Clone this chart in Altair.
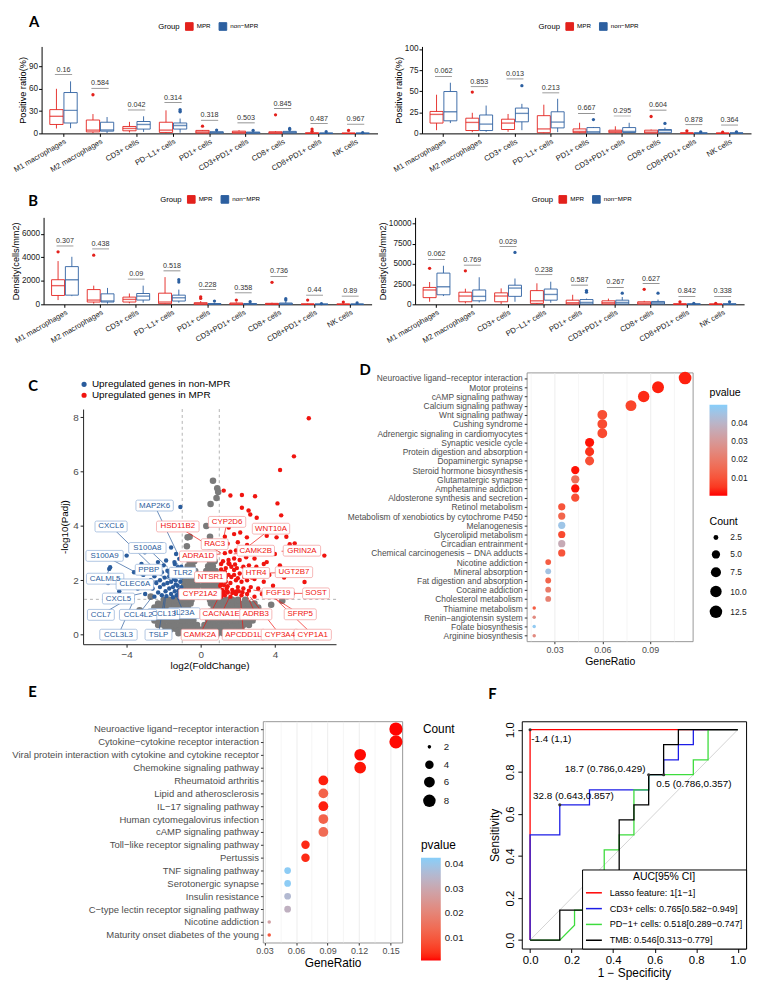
import altair as alt
import pandas as pd

FONT = "Liberation Sans"
LFONT = "Lato"
RED = "#E3211C"
BLUE = "#2C5FA0"

# ---------------- A / B : box plots ----------------
cats = ["M1 macrophages", "M2 macrophages", "CD3+ cells", "PD−L1+ cells", "PD1+ cells",
        "CD3+PD1+ cells", "CD8+ cells", "CD8+PD1+ cells", "NK cells"]
groups = ["MPR", "non−MPR"]

a1_mpr_lo = [6.6, 0.5, 1.3, 0.4, 0.3, 0.2, 0.2, 0.0, 0.0]
a1_mpr_q1 = [12, 2, 3.5, 1.3, 0.4, 0.3, 0.2, 0.0, 0.0]
a1_mpr_med = [23, 4.4, 6.6, 4.4, 1.8, 1.3, 0.9, 0.2, 0.1]
a1_mpr_q3 = [32, 18, 9.3, 15, 4, 3, 2.2, 0.7, 0.3]
a1_mpr_hi = [60, 26, 15.5, 31, 4.5, 4.4, 3, 1.5, 0.6]
a1_non_lo = [7, 0.5, 2, 1, 0.2, 0.1, 0.2, 0, 0]
a1_non_q1 = [14, 3, 5.8, 5.8, 0.4, 0.2, 0.4, 0, 0]
a1_non_med = [31, 4.5, 12, 10.6, 1.3, 0.9, 1.3, 0.2, 0.2]
a1_non_q3 = [55, 15, 16, 14, 2.2, 1.8, 2.7, 0.4, 0.4]
a1_non_hi = [70, 22, 23, 20, 3, 2.5, 4.4, 0.8, 0.6]
a1_out_cat = [1, 4, 6, 7, 7, 8, 3, 3, 3, 4, 5, 6, 6, 7, 8]
a1_out_grp = [0, 0, 0, 0, 0, 0, 1, 1, 1, 1, 1, 1, 1, 1, 1]
a1_out_val = [52, 9.7, 25, 5.8, 3, 4, 32, 30, 29, 4.4, 4, 6.6, 5.3, 2.2, 0.9]
a1_p = ["0.16", "0.584", "0.042", "0.314", "0.318", "0.503", "0.845", "0.487", "0.967"]
a1_p_y = [79, 60.7, 31.5, 41.6, 17.7, 14.2, 33.2, 13.3, 12.4]

a2_mpr_lo = [3.8, 1.5, 1.9, 0, 0, 0.4, 0.2, 0, 0]
a2_mpr_q1 = [12.2, 3.4, 4.6, 0.8, 0.8, 0.8, 0.4, 0.1, 0]
a2_mpr_med = [22.5, 13, 12.2, 5.3, 2.3, 2.3, 1.5, 0.3, 0.2]
a2_mpr_q3 = [26, 18, 16.8, 21, 5.3, 3.8, 3.8, 0.6, 0.4]
a2_mpr_hi = [45.8, 24.4, 23, 34, 12.6, 8.4, 4.6, 1.2, 0.8]
a2_non_lo = [12.2, 1.9, 3.8, 1.5, 0.4, 1.1, 0.8, 0, 0]
a2_non_q1 = [14.9, 3.4, 13.7, 6.5, 0.4, 1.1, 0.8, 0.1, 0.1]
a2_non_med = [25.6, 11, 23.7, 13.4, 1.9, 2.3, 3.4, 0.3, 0.3]
a2_non_q3 = [49.6, 21.8, 30, 25.6, 6.9, 6.9, 4.6, 0.6, 0.6]
a2_non_hi = [60, 33, 35, 41, 7.6, 12.6, 6.9, 1.0, 1.0]
a2_out_cat = [1, 6, 7, 8, 2, 4, 6, 7, 8]
a2_out_grp = [0, 0, 0, 0, 1, 1, 1, 1, 1]
a2_out_val = [49, 20, 3, 1.5, 56.5, 16.4, 11.8, 1.9, 1.9]
a2_p = ["0.062", "0.853", "0.013", "0.213", "0.667", "0.295", "0.604", "0.878", "0.364"]
a2_p_y = [67.6, 55.3, 64.5, 48, 23.7, 20.6, 27.5, 10.3, 9.9]

b1_mpr_lo = [363, 56, 84, 0, 0, 0, 0, 0, 0]
b1_mpr_q1 = [753, 195, 195, 56, 0, 0, 0, 0, 0]
b1_mpr_med = [1590, 363, 419, 195, 56, 30, 20, 5, 5]
b1_mpr_q3 = [2093, 1256, 614, 949, 140, 112, 84, 30, 20]
b1_mpr_hi = [3683, 1590, 921, 2316, 279, 170, 140, 60, 40]
b1_non_lo = [698, 56, 140, 140, 0, 0, 0, 0, 0]
b1_non_q1 = [781, 195, 363, 279, 10, 10, 10, 0, 0]
b1_non_med = [2093, 279, 698, 558, 30, 30, 30, 5, 5]
b1_non_q3 = [3209, 893, 921, 781, 56, 56, 112, 20, 20]
b1_non_hi = [4046, 1395, 1590, 1256, 112, 112, 251, 40, 40]
b1_out_cat = [0, 1, 4, 4, 5, 6, 7, 8, 3, 3, 4, 5, 6, 6, 7, 8]
b1_out_grp = [0, 0, 0, 0, 0, 0, 0, 0, 1, 1, 1, 1, 1, 1, 1, 1]
b1_out_val = [4464, 4185, 642, 502, 363, 1869, 363, 195, 2093, 1897, 279, 223, 474, 363, 56, 112]
b1_p = ["0.307", "0.438", "0.09", "0.518", "0.228", "0.358", "0.736", "0.44", "0.89"]
b1_p_y = [4966, 4715, 2148, 2846, 1256, 977, 2372, 781, 698]

b2_mpr_lo = [316, 119, 40, 0, 0, 0, 0, 0, 0]
b2_mpr_q1 = [830, 316, 316, 119, 40, 40, 20, 0, 0]
b2_mpr_med = [1778, 1027, 1027, 435, 198, 198, 158, 20, 10]
b2_mpr_q3 = [2094, 1501, 1422, 1699, 514, 435, 316, 60, 40]
b2_mpr_hi = [2765, 1936, 1975, 2607, 1185, 711, 435, 120, 80]
b2_non_lo = [1027, 237, 316, 198, 0, 0, 0, 0, 0]
b2_non_q1 = [1185, 435, 988, 514, 40, 40, 40, 0, 0]
b2_non_med = [2173, 988, 2015, 1225, 237, 237, 198, 20, 20]
b2_non_q3 = [3871, 1778, 2370, 1896, 593, 514, 356, 60, 60]
b2_non_hi = [4780, 3358, 3200, 2805, 711, 909, 593, 120, 120]
b2_out_cat = [0, 1, 6, 7, 8, 2, 4, 4, 5, 6, 7, 8]
b2_out_grp = [0, 0, 0, 0, 0, 1, 1, 1, 1, 1, 1, 1]
b2_out_val = [4464, 4148, 1857, 316, 119, 6440, 1699, 1501, 1383, 1383, 119, 316]
b2_p = ["0.062", "0.769", "0.029", "0.238", "0.587", "0.267", "0.627", "0.842", "0.338"]
b2_p_y = [5570, 4859, 7150, 3674, 2370, 2094, 2568, 988, 988]

# ---------------- C : volcano ----------------
vol_groups = ["Upregulated genes in non-MPR", "Upregulated genes in MPR"]
vol_gray_rows = [
    (0.05, [-1.2, -0.9, -0.6, -0.3, 0.0, 0.3, 0.6, 0.9, 1.2, 1.5]),
    (0.2, [-1.9, -1.6, -1.3, -1.0, -0.7, -0.4, -0.12, 0.12, 0.4, 0.7, 1.0, 1.3, 1.6, 1.9, 2.2]),
    (0.36, [-2.3, -2.0, -1.7, -1.4, -1.1, -0.8, -0.5, -0.2, 0.2, 0.5, 0.8, 1.1, 1.4, 1.7, 2.0, 2.3, 2.6]),
    (0.52, [-2.5, -2.2, -1.9, -1.6, -1.3, -1.0, -0.7, -0.4, 0.4, 0.7, 1.0, 1.3, 1.6, 1.9, 2.2, 2.5, 2.8]),
    (0.68, [-2.7, -2.4, -2.1, -1.8, -1.5, -1.2, -0.9, -0.6, -0.35, 0.35, 0.6, 0.9, 1.2, 1.5, 1.8, 2.1, 2.4, 2.7, 3.0]),
    (0.84, [-2.6, -2.3, -2.0, -1.7, -1.4, -1.1, -0.8, -0.5, 0.5, 0.8, 1.1, 1.4, 1.7, 2.0, 2.3, 2.6, 2.9, 3.2]),
    (1.0, [-2.5, -2.2, -1.9, -1.6, -1.3, -1.0, -0.7, 0.7, 1.0, 1.3, 1.6, 1.9, 2.2, 2.5, 2.8, 3.1]),
    (1.15, [-2.3, -2.0, -1.7, -1.4, -1.1, -0.8, -0.55, 0.55, 0.8, 1.1, 1.4, 1.7, 2.0, 2.3, 2.6, 2.9]),
    (1.28, [-2.0, -1.7, -1.4, -1.1, -0.8, -0.5, 0.5, 0.8, 1.1, 1.4, 1.7, 2.0, 2.4]),
    (1.45, [-0.9, -0.65, -0.4, 0.4, 0.65, 0.9]),
    (1.62, [-0.9, -0.65, -0.4, -0.15, 0.15, 0.4, 0.65, 0.9]),
    (1.8, [-0.9, -0.65, -0.4, -0.15, 0.15, 0.4, 0.65, 0.9]),
    (1.98, [-0.85, -0.6, -0.35, -0.1, 0.15, 0.4, 0.65, 0.9]),
    (2.16, [-0.85, -0.6, -0.35, 0.2, 0.45, 0.7]),
    (2.34, [-0.8, -0.55, -0.3, 0.3, 0.55, 0.8]),
    (2.52, [-0.7, -0.45, 0.4, 0.65]),
    (2.7, [-0.6, -0.35, 0.5, 0.75]),
    (2.95, [-0.5, 0.35, 0.65]),
    (3.25, [-0.75, 0.45]),
    (3.6, [-0.6, 0.5]),
]
vol_gray_extra_x = [0.66, 0.89, 0.94, 0.53, 0.85, -0.71, -2.7, 4.4, 3.8, -3.3, 0.75, 0.3]
vol_gray_extra_y = [5.66, 5.39, 5.25, 4.81, 5.03, 3.58, 1.4, 1.25, 1.1, 0.9, 4.2, 4.0]
vol_blue_x = [-1.1, -1.2, -1.3, -1.15, -1.4, -1.6, -1.25, -1.5, -1.7, -1.9, -1.1, -1.35, -1.6, -1.8, -2.0,
              -2.2, -1.2, -1.45, -1.7, -1.95, -2.2, -2.4, -1.3, -1.55, -1.8, -2.1, -2.5, -2.7, -2.3, -2.6,
              -2.9, -3.1, -1.05, -1.4, -2.0, -2.6, -1.15, -1.5, -1.85, -2.1, -2.5, -3.0, -3.4, -3.6, -3.2,
              -2.13, -1.6, -1.33, -3.02, -3.73, -4.0, -2.31, -1.87, -1.42, -1.16, -3.38, -2.67, -4.94,
              -1.24, -1.1, -2.58, -4.89, -4.4, -5.0, -1.05, -1.2, -1.35, -1.05, -1.25, -1.45, -1.7]
vol_blue_y = [1.4, 1.5, 1.45, 1.65, 1.6, 1.5, 1.8, 1.75, 1.7, 1.6, 1.95, 2.0, 1.95, 1.9, 1.85,
              1.75, 2.15, 2.2, 2.15, 2.1, 2.0, 1.9, 2.35, 2.4, 2.35, 2.3, 2.15, 2.0, 1.55, 1.7,
              1.85, 2.2, 2.5, 2.6, 2.55, 2.45, 1.35, 1.38, 1.42, 1.45, 1.4, 1.5, 1.7, 2.3, 2.6,
              3.33, 3.21, 2.97, 3.03, 3.09, 2.91, 2.67, 2.73, 2.67, 2.79, 2.48, 2.48, 2.42,
              2.48, 4.7, 2.48, 2.48, 1.6, 1.9, 1.75, 1.62, 1.85, 2.1, 2.28, 2.05, 2.3]
vol_red_x = [1.1, 1.3, 1.6, 1.9, 2.2, 2.5, 2.9, 3.3, 1.15, 1.4, 1.7, 2.0, 2.3, 2.7, 3.1,
             1.1, 1.35, 1.6, 1.9, 2.2, 2.5, 2.9, 3.4, 1.2, 1.5, 1.8, 2.1, 2.4, 2.8, 3.2,
             1.1, 1.35, 1.65, 1.95, 2.3, 2.6, 3.0, 1.2, 1.5, 1.8, 2.1, 2.45, 2.9,
             1.3, 1.6, 1.9, 2.3, 2.7, 1.15, 1.45, 2.0, 2.5, 3.2, 1.3, 1.8, 3.4, 3.7, 3.9, 4.2,
             5.83, 5.03, 4.28, 4.14, 4.34, 1.24, 1.6, 2.22, 2.93, 2.22, 2.58, 2.67, 3.02, 4.62,
             4.8, 5.07, 6.67, 4.09, 3.2, 3.56, 1.87, 1.51, 2.49, 2.13, 4.0, 3.56, 4.27, 5.6,
             4.98, 4.5, 5.3, 1.05, 1.25, 1.45, 1.05, 1.25, 1.45, 1.75, 2.05, 1.05, 1.3, 1.55, 1.8,
             1.2, 1.45, 1.7, 1.95, 2.25, 2.6, 1.35, 1.65, 2.0, 2.35, 2.75, 1.1, 1.5, 1.85]
vol_red_y = [1.4, 1.45, 1.4, 1.5, 1.45, 1.5, 1.4, 1.5, 1.65, 1.7, 1.65, 1.75, 1.7, 1.75, 1.7,
             1.9, 1.95, 1.9, 2.0, 1.95, 2.0, 2.05, 1.95, 2.15, 2.2, 2.2, 2.25, 2.2, 2.3, 2.25,
             2.4, 2.45, 2.5, 2.45, 2.5, 2.55, 2.5, 2.7, 2.75, 2.8, 2.75, 2.85, 2.8,
             3.0, 3.05, 3.1, 3.05, 3.15, 3.3, 3.35, 3.4, 3.3, 3.1, 3.6, 3.7, 2.6, 2.2, 1.8, 1.6,
             7.96, 6.56, 6.06, 4.83, 4.39, 5.3, 5.12, 5.14, 5.09, 4.67, 4.57, 4.42, 4.3, 3.6,
             3.33, 3.36, 2.91, 3.58, 3.94, 3.64, 4.18, 3.94, 3.58, 3.76, 2.97, 2.67, 2.55, 1.94,
             1.52, 2.1, 2.3, 1.55, 1.58, 1.55, 1.8, 1.82, 1.78, 1.58, 1.6, 2.05, 2.32, 2.6, 2.38,
             1.52, 1.57, 1.53, 1.6, 1.56, 1.62, 2.1, 2.12, 2.08, 2.12, 2.1, 2.6, 2.62, 2.58]
lab_blue = ["MAP2K6", "CXCL6", "S100A8", "S100A9", "PPBP", "TLR2", "CALML5", "CLEC6A", "CXCL5",
            "CCL7", "IL23A", "CCL13", "CCL4L2", "CCL3L3", "TSLP"]
lab_blue_x = [-2.49, -4.84, -2.88, -5.19, -2.81, -0.98, -5.16, -3.56, -4.44, -5.39, -0.9, -2.0, -3.38, -4.44, -2.28]
lab_blue_y = [4.75, 3.98, 3.19, 2.9, 2.39, 2.28, 2.06, 1.85, 1.33, 0.73, 0.79, 0.76, 0.73, 0.0, 0.0]
lab_blue_px = [-1.24, -2.58, -1.78, -3.2, -1.6, -1.28, -4.89, -2.31, -3.2, -3.73, -1.3, -1.9, -2.67, -3.57, -1.96]
lab_blue_py = [2.97, 2.48, 2.48, 2.18, 2.0, 2.63, 2.48, 2.0, 1.52, 1.4, 1.4, 1.4, 1.35, 1.35, 1.38]
lab_red = ["HSD11B2", "CYP2D6", "WNT10A", "RAC3", "CAMK2B", "GRIN2A", "ADRA1D", "HTR4", "UGT2B7", "NTSR1",
           "CYP21A2", "FGF19", "SOST", "CACNA1E", "ADRB3", "SFRP5", "CAMK2A", "APCDD1L", "CYP3A4", "CYP1A1"]
lab_red_x = [-1.24, 1.42, 3.79, 0.75, 2.97, 5.46, -0.14, 2.99, 5.03, 0.53,
             -0.04, 4.18, 6.22, 1.1, 2.97, 5.37, -0.05, 2.31, 4.27, 6.04]
lab_red_y = [3.98, 4.15, 3.9, 3.33, 3.09, 3.09, 2.88, 2.27, 2.3, 2.12,
             1.49, 1.52, 1.52, 0.75, 0.75, 0.75, 0.0, 0.0, 0.0, 0.0]
lab_red_px = [1.1, 1.24, 2.49, 1.42, 1.78, 4.36, 1.07, 2.13, 3.73, 1.42,
              1.42, 2.84, 4.98, 1.6, 2.49, 3.56, 1.07, 2.13, 2.67, 3.91]
lab_red_py = [3.0, 3.58, 3.21, 3.15, 2.97, 3.07, 2.97, 2.48, 2.27, 2.24,
              1.64, 1.64, 1.52, 1.45, 1.45, 1.52, 1.52, 1.45, 1.39, 1.4]

# ---------------- D : KEGG dot plot ----------------
d_terms = ["Neuroactive ligand−receptor interaction", "Motor proteins", "cAMP signaling pathway",
           "Calcium signaling pathway", "Wnt signaling pathway", "Cushing syndrome",
           "Adrenergic signaling in cardiomyocytes", "Synaptic vesicle cycle",
           "Protein digestion and absorption", "Dopaminergic synapse", "Steroid hormone biosynthesis",
           "Glutamatergic synapse", "Amphetamine addiction", "Aldosterone synthesis and secretion",
           "Retinol metabolism", "Metabolism of xenobiotics by cytochrome P450", "Melanogenesis",
           "Glycerolipid metabolism", "Circadian entrainment", "Chemical carcinogenesis − DNA adducts",
           "Nicotine addiction", "Mineral absorption", "Fat digestion and absorption", "Cocaine addiction",
           "Cholesterol metabolism", "Thiamine metabolism", "Renin−angiotensin system",
           "Folate biosynthesis", "Arginine biosynthesis"]
d_ratio = [0.112, 0.095, 0.086, 0.078, 0.060, 0.060, 0.060, 0.052, 0.052, 0.052, 0.043, 0.043, 0.043,
           0.043, 0.0345, 0.0345, 0.0345, 0.0345, 0.0345, 0.0345, 0.026, 0.026, 0.026, 0.026, 0.026,
           0.0172, 0.0172, 0.0172, 0.0172]
d_count = [13, 11, 10, 9, 7, 7, 7, 6, 6, 6, 5, 5, 5, 5, 4, 4, 4, 4, 4, 4, 3, 3, 3, 3, 3, 2, 2, 2, 2]
d_p = [0.002, 0.002, 0.003, 0.007, 0.009, 0.008, 0.008, 0.001, 0.004, 0.009, 0.001, 0.017, 0.001,
       0.009, 0.010, 0.014, 0.046, 0.008, 0.036, 0.010, 0.012, 0.045, 0.014, 0.020, 0.022, 0.012,
       0.025, 0.048, 0.025]

# ---------------- E : KEGG dot plot ----------------
e_terms = ["Neuroactive ligand−receptor interaction", "Cytokine−cytokine receptor interaction",
           "Viral protein interaction with cytokine and cytokine receptor", "Chemokine signaling pathway",
           "Rheumatoid arthritis", "Lipid and atherosclerosis", "IL−17 signaling pathway",
           "Human cytomegalovirus infection", "cAMP signaling pathway", "Toll−like receptor signaling pathway",
           "Pertussis", "TNF signaling pathway", "Serotonergic synapse", "Insulin resistance",
           "C−type lectin receptor signaling pathway", "Nicotine addiction",
           "Maturity onset diabetes of the young"]
e_ratio = [0.155, 0.155, 0.121, 0.121, 0.086, 0.086, 0.086, 0.086, 0.086, 0.069, 0.069, 0.052,
           0.052, 0.052, 0.052, 0.0345, 0.0345]
e_count = [9, 9, 7, 7, 5, 5, 5, 5, 5, 4, 4, 3, 3, 3, 3, 2, 2]
e_p = [0.0008, 0.001, 0.001, 0.0015, 0.002, 0.012, 0.002, 0.012, 0.014, 0.003, 0.003, 0.042,
       0.042, 0.036, 0.033, 0.028, 0.01]

# ---------------- F : ROC ----------------
roc_names = ["Lasso feature: 1[1−1]", "CD3+ cells: 0.765[0.582−0.949]",
             "PD−1+ cells: 0.518[0.289−0.747]", "TMB: 0.546[0.313−0.779]"]
roc_colors = ["#FF0000", "#1C1CE6", "#3DDC3D", "#000000"]
roc_lasso_x = [0, 0, 1]
roc_lasso_y = [0, 1, 1]
roc_cd3_x = [0, 0, 0.143, 0.143, 0.286, 0.286, 0.571, 0.571, 0.643, 0.643, 0.714, 0.714, 0.786, 0.786, 1]
roc_cd3_y = [0, 0.5, 0.5, 0.643, 0.643, 0.714, 0.714, 0.786, 0.786, 0.857, 0.857, 0.929, 0.929, 1, 1]
roc_pd1_x = [0, 0.143, 0.214, 0.214, 0.286, 0.286, 0.357, 0.357, 0.429, 0.429, 0.5, 0.5, 0.571, 0.571,
             0.786, 0.786, 0.857, 0.857, 1]
roc_pd1_y = [0, 0, 0.071, 0.143, 0.143, 0.214, 0.214, 0.429, 0.429, 0.5, 0.5, 0.714, 0.714, 0.786,
             0.786, 0.857, 0.857, 1, 1]
roc_tmb_x = [0, 0.143, 0.143, 0.286, 0.286, 0.429, 0.429, 0.5, 0.5, 0.571, 0.571, 0.643, 0.643, 0.714, 0.714, 1]
roc_tmb_y = [0, 0, 0.143, 0.143, 0.214, 0.214, 0.571, 0.571, 0.643, 0.643, 0.786, 0.786, 0.929, 0.929, 1, 1]
roc_pt_x = [0, 0.571, 0.643, 0.143]
roc_pt_y = [1, 0.786, 0.786, 0.643]
roc_lab = ["-1.4 (1,1)", "18.7 (0.786,0.429)", "0.5 (0.786,0.357)", "32.8 (0.643,0.857)"]
roc_lab_x = [0.005, 0.167, 0.608, 0.014]
roc_lab_y = [0.955, 0.815, 0.74, 0.685]


def letter_title(t, dx=0, dy=0, offset=2):
    return alt.TitleParams(t, anchor="start", font=LFONT, fontSize=15, fontWeight="bold",
                           color="#000", dx=dx, dy=dy, offset=offset)


NOVIEW = alt.ViewBackground(stroke="transparent")


def box_chart(mpr, non, out_ci, out_g, out_v, pv, pv_y, ydom, yvals, ytitle, w, h, letter, ldy, legy):
    rows = []
    for g, st in ((groups[0], mpr), (groups[1], non)):
        lo, q1, md, q3, hi = st
        for i, c in enumerate(cats):
            rows.append({"cat": c, "grp": g, "lo": lo[i], "q1": q1[i], "med": md[i],
                         "q3": q3[i], "hi": hi[i]})
    df = pd.DataFrame(rows)
    dfo = pd.DataFrame({"cat": [cats[i] for i in out_ci], "grp": [groups[g] for g in out_g], "v": out_v})
    dfp = pd.DataFrame({"cat": cats, "p": pv, "y": pv_y})
    step = w / 9.2
    band = 0.75 * step / (2 - 0.06) * (1 - 0.06)
    xax = alt.Axis(labelAngle=-30, labelAlign="right", labelBaseline="top", labelFontSize=7.7,
                   labelFont=FONT, labelColor="#1a1a1a", domainColor="#000", tickColor="#000",
                   tickSize=3, labelPadding=1, grid=False, labelLimit=200)
    x = alt.X("cat:N", sort=cats, title=None, axis=xax,
              scale=alt.Scale(domain=cats, paddingInner=0.25, paddingOuter=0.225))
    xo = alt.XOffset("grp:N", scale=alt.Scale(domain=groups, paddingInner=0.06, paddingOuter=0))
    yax = alt.Axis(values=yvals, format="d", labelFontSize=8.3, labelFont=FONT, labelColor="#1a1a1a",
                   titleFont=FONT, titleFontSize=9.3, titleFontWeight="normal", titleColor="#000",
                   domainColor="#000", tickColor="#000", tickSize=3, labelPadding=1, titlePadding=1,
                   grid=False)
    ys = alt.Scale(domain=ydom, nice=False, zero=False)
    cs = alt.Scale(domain=groups, range=[RED, BLUE])

    def Y(f):
        return alt.Y(f, scale=ys, axis=yax, title=ytitle)

    leg = alt.Legend(title="Group", orient="none", legendX=118, legendY=legy, direction="horizontal",
                     titleOrient="left", symbolType="square", symbolSize=60, symbolFillColor="white",
                     symbolStrokeWidth=1, labelFont=FONT, labelFontSize=6.3, titleFont=FONT,
                     titleFontSize=7.8, titleFontWeight="normal", titlePadding=5, columnPadding=6,
                     labelOffset=3)
    whisk = alt.Chart(df).mark_rule(strokeWidth=0.9).encode(
        x=x, xOffset=xo, y=Y("lo:Q"), y2="hi:Q", color=alt.Color("grp:N", scale=cs, legend=leg))
    box = alt.Chart(df).mark_bar(fill="white", strokeWidth=0.9).encode(
        x=x, xOffset=xo, y=Y("q1:Q"), y2="q3:Q", stroke=alt.Stroke("grp:N", scale=cs, legend=None))
    med = alt.Chart(df).mark_tick(thickness=1.4, size=band).encode(
        x=x, xOffset=xo, y=Y("med:Q"), fill=alt.Fill("grp:N", scale=cs, legend=None))
    outl = alt.Chart(dfo).mark_circle(size=11, opacity=1).encode(
        x=x, xOffset=xo, y=Y("v:Q"), fill=alt.Fill("grp:N", scale=cs, legend=None))
    brk = alt.Chart(dfp).mark_tick(size=band * 1.3, thickness=0.7, color="#333").encode(x=x, y=Y("y:Q"))
    txt = alt.Chart(dfp).mark_text(dy=-5, fontSize=7.3, font=FONT, color="#333").encode(
        x=x, y=Y("y:Q"), text="p:N")
    return alt.layer(whisk, box, med, outl, brk, txt).properties(
        width=w, height=h, title=letter_title(letter, dx=17, dy=ldy), view=NOVIEW)


def volcano():
    W, H = 256, 238
    xdom, ydom = [-6.35, 7.3], [-0.35, 8.3]
    pxx = W / (xdom[1] - xdom[0])
    pxy = H / (ydom[1] - ydom[0])
    gx, gy = [], []
    for yy, xs in vol_gray_rows:
        for xx in xs:
            gx.append(xx)
            gy.append(yy)
    gx += vol_gray_extra_x
    gy += vol_gray_extra_y
    dgray = pd.DataFrame({"x": gx, "y": gy})
    dsig = pd.DataFrame({"x": vol_blue_x + vol_red_x, "y": vol_blue_y + vol_red_y,
                         "g": [vol_groups[0]] * len(vol_blue_x) + [vol_groups[1]] * len(vol_red_x)})
    names = lab_blue + lab_red
    lx = lab_blue_x + lab_red_x
    ly = lab_blue_y + lab_red_y
    dlab = pd.DataFrame({
        "name": names, "x": lx, "y": ly, "px": lab_blue_px + lab_red_px, "py": lab_blue_py + lab_red_py,
        "g": [vol_groups[0]] * len(lab_blue) + [vol_groups[1]] * len(lab_red),
        "x1": [a - (len(n) * 5.3 + 6) / 2 / pxx for a, n in zip(lx, names)],
        "x2": [a + (len(n) * 5.3 + 6) / 2 / pxx for a, n in zip(lx, names)],
        "y1": [b - 5.5 / pxy for b in ly], "y2": [b + 5.5 / pxy for b in ly]})
    dv = pd.DataFrame({"x": [-1, 1]})
    dh = pd.DataFrame({"y": [1.301]})
    xs = alt.Scale(domain=xdom, nice=False, zero=False)
    ysc = alt.Scale(domain=ydom, nice=False, zero=False)
    xax = alt.Axis(values=[-4, 0, 4], labelFontSize=10, labelColor="#4D4D4D", labelFont=FONT,
                   titleFont=FONT, titleFontSize=10, titleFontWeight="normal", titleColor="#000",
                   domainColor="#222", tickColor="#222", tickSize=3, grid=False, titlePadding=2)
    yax = alt.Axis(values=[0, 2, 4, 6, 8], labelFontSize=10, labelColor="#4D4D4D", labelFont=FONT,
                   titleFont=FONT, titleFontSize=10, titleFontWeight="normal", titleColor="#000",
                   domainColor="#222", tickColor="#222", tickSize=3, grid=False, titlePadding=3)
    X = lambda f: alt.X(f, scale=xs, axis=xax, title="log2(FoldChange)")
    Y = lambda f: alt.Y(f, scale=ysc, axis=yax, title="-log10(Padj)")
    cs = alt.Scale(domain=vol_groups, range=["#2A5C9C", "#F0140F"])
    col_noleg = alt.Color("g:N", scale=cs, legend=None)
    vr = alt.Chart(dv).mark_rule(strokeDash=[3, 3], color="#A0A0A0", strokeWidth=0.8).encode(x=X("x:Q"))
    hr = alt.Chart(dh).mark_rule(strokeDash=[3, 3], color="#A0A0A0", strokeWidth=0.8).encode(y=Y("y:Q"))
    gp = alt.Chart(dgray).mark_circle(size=44, opacity=1, color="#7A7A7A").encode(x=X("x:Q"), y=Y("y:Q"))
    sp_ = alt.Chart(dsig).mark_circle(size=20, opacity=1).encode(
        x=X("x:Q"), y=Y("y:Q"),
        color=alt.Color("g:N", scale=cs, legend=alt.Legend(
            title=None, orient="none", legendX=-4, legendY=-30, direction="vertical",
            symbolType="circle", symbolSize=14, labelFont=FONT, labelFontSize=10,
            labelColor="#000", rowPadding=1, labelOffset=3)))
    seg = alt.Chart(dlab).mark_rule(strokeWidth=0.7).encode(
        x=X("x:Q"), y=Y("y:Q"), x2="px:Q", y2="py:Q", color=col_noleg)
    rect = alt.Chart(dlab).mark_rect(fill="white", strokeWidth=0.7, cornerRadius=1.5).encode(
        x=X("x1:Q"), x2="x2:Q", y=Y("y1:Q"), y2="y2:Q",
        stroke=alt.Stroke("g:N", scale=alt.Scale(domain=vol_groups, range=["#8FAED6", "#F29A9A"]), legend=None))
    lt = alt.Chart(dlab).mark_text(fontSize=8, font=FONT).encode(
        x=X("x:Q"), y=Y("y:Q"), text="name:N", color=col_noleg)
    return alt.layer(vr, hr, gp, sp_, seg, rect, lt).properties(
        width=W, height=H, title=letter_title("C", dx=-32, dy=17), view=NOVIEW)


def dot_chart(terms, ratio, count, pv, xdom, xvals, w, h, sdom, srange, svals, sfmt, pdom,
              ylab_size, xlab_size, xtitle_size, leg_title_size, leg_lab_size, cpos, spos, glen, gthick,
              srow, letter, tdx, tdy, toff):
    df = pd.DataFrame({"term": terms, "ratio": ratio, "count": count, "p": pv})
    mt = "round(datum.value*1000) % 30 != 0"
    xax = alt.Axis(values=xvals, labelExpr="round(datum.value*1000) % 30 == 0 ? format(datum.value, '.2f') : ''",
                   tickOpacity={"condition": {"test": mt, "value": 0}, "value": 1},
                   gridWidth={"condition": {"test": mt, "value": 0.45}, "value": 0.9},
                   gridColor="#EBEBEB", labelFontSize=xlab_size, labelColor="#4D4D4D", labelFont=FONT,
                   tickColor="#333", tickSize=2.5, domain=False, titleFont=FONT, titleFontSize=xtitle_size,
                   titleFontWeight="normal", titleColor="#000", titlePadding=2, labelPadding=2)
    yax = alt.Axis(labelFontSize=ylab_size, labelColor="#4D4D4D", labelFont=FONT, tickColor="#333",
                   tickSize=2.5, domain=False, gridColor="#EBEBEB", gridWidth=0.9, labelLimit=400,
                   labelPadding=2)
    pts = alt.Chart(df).mark_circle(opacity=1).encode(
        x=alt.X("ratio:Q", scale=alt.Scale(domain=xdom, nice=False, zero=False), axis=xax, title="GeneRatio"),
        y=alt.Y("term:N", sort=terms, scale=alt.Scale(type="point", padding=0.6), axis=yax, title=None),
        color=alt.Color("p:Q", scale=alt.Scale(domain=pdom, range=["#FF0000", "#87CEFA"], interpolate="lab"),
                        legend=alt.Legend(title="pvalue", orient="none", legendX=cpos[0], legendY=cpos[1],
                                          direction="vertical", gradientLength=glen, gradientThickness=gthick,
                                          values=[0.01, 0.02, 0.03, 0.04], format=".2f",
                                          titleFont=FONT, titleFontSize=leg_title_size, titleFontWeight="normal",
                                          labelFont=FONT, labelFontSize=leg_lab_size, labelColor="#1a1a1a",
                                          gradientStrokeWidth=0, titlePadding=6, labelOffset=4)),
        size=alt.Size("count:Q", scale=alt.Scale(type="sqrt", domain=sdom, range=srange),
                      legend=alt.Legend(title="Count", orient="none", legendX=spos[0], legendY=spos[1],
                                        values=svals, format=sfmt, symbolFillColor="#000",
                                        symbolStrokeWidth=0, titleFont=FONT, titleFontSize=leg_title_size,
                                        titleFontWeight="normal", labelFont=FONT, labelFontSize=leg_lab_size,
                                        labelColor="#1a1a1a", rowPadding=srow, titlePadding=6, labelOffset=8)))
    return pts.properties(width=w, height=h, title=letter_title(letter, dx=tdx, dy=tdy, offset=toff),
                          view=alt.ViewBackground(stroke="#8C8C8C", strokeWidth=0.9))


def roc_chart():
    rows = []
    for name, xs_, ys_ in zip(roc_names, [roc_lasso_x, roc_cd3_x, roc_pd1_x, roc_tmb_x],
                              [roc_lasso_y, roc_cd3_y, roc_pd1_y, roc_tmb_y]):
        for i, (a, b) in enumerate(zip(xs_, ys_)):
            rows.append({"s": name, "i": i, "x": a, "y": b})
    df = pd.DataFrame(rows)
    sc = alt.Scale(domain=[-0.04, 1.04], nice=False, zero=False)
    xax = alt.Axis(values=[0, 0.2, 0.4, 0.6, 0.8, 1.0], format=".1f", labelFontSize=11.5, labelFont=FONT,
                   labelColor="#000", tickColor="#000", tickSize=4, domain=False, grid=False,
                   titleFont=FONT, titleFontSize=12, titleFontWeight="normal", titleColor="#000",
                   titlePadding=2)
    yax = alt.Axis(values=[0, 0.2, 0.4, 0.6, 0.8, 1.0], format=".1f", labelFontSize=11.5, labelFont=FONT,
                   labelColor="#000", tickColor="#000", tickSize=4, domain=False, grid=False,
                   labelAngle=-90, labelAlign="center", labelBaseline="bottom",
                   titleFont=FONT, titleFontSize=12, titleFontWeight="normal", titleColor="#000",
                   titlePadding=4)
    X = lambda f: alt.X(f, scale=sc, axis=xax, title="1 − Specificity")
    Y = lambda f: alt.Y(f, scale=sc, axis=yax, title="Sensitivity")
    cs = alt.Scale(domain=roc_names, range=roc_colors)
    diag = alt.Chart(pd.DataFrame({"x": [0, 1], "y": [0, 1]})).mark_line(
        color="#C8C8C8", strokeWidth=0.8).encode(x=X("x:Q"), y=Y("y:Q"))
    layers = [diag]
    for k, name in enumerate(roc_names):
        if k == 0:
            cenc = alt.Color("s:N", scale=cs, legend=alt.Legend(
                title="AUC[95% CI]", orient="bottom-right", offset=0, fillColor="white",
                strokeColor="#000", padding=3, symbolType="stroke", symbolStrokeWidth=1.5,
                symbolSize=260, labelFont=FONT, labelFontSize=9.2, labelColor="#000",
                titleFont=FONT, titleFontSize=10.6, titleFontWeight="normal", titleAnchor="middle",
                rowPadding=1, labelLimit=300, labelOffset=7, titlePadding=1))
        else:
            cenc = alt.Color("s:N", scale=cs, legend=None)
        layers.append(alt.Chart(df).transform_filter(alt.datum.s == name).mark_line(strokeWidth=1.3).encode(
            x=X("x:Q"), y=Y("y:Q"), order="i:Q", color=cenc))
    dpt = pd.DataFrame({"x": roc_pt_x, "y": roc_pt_y})
    dlb = pd.DataFrame({"x": roc_lab_x, "y": roc_lab_y, "t": roc_lab})
    layers.append(alt.Chart(dpt).mark_circle(size=10, color="#333", opacity=1).encode(x=X("x:Q"), y=Y("y:Q")))
    layers.append(alt.Chart(dlb).mark_text(align="left", baseline="middle", fontSize=10, font=FONT,
                                           color="#000").encode(x=X("x:Q"), y=Y("y:Q"), text="t:N"))
    return alt.layer(*layers).properties(width=227, height=230, title=letter_title("F", dx=0, offset=20),
                                         view=alt.ViewBackground(stroke="#000", strokeWidth=1))


def indep(c):
    return c.resolve_scale(color="independent", stroke="independent", fill="independent",
                           size="independent", xOffset="independent", x="independent",
                           y="independent").resolve_legend(
        color="independent", stroke="independent", fill="independent", size="independent")


def sp(w, h=1):
    return alt.Chart(pd.DataFrame({"a": [0]})).mark_text(text="").properties(
        width=w, height=h, view=alt.ViewBackground(stroke="transparent"))


def hrow(*charts):
    return indep(alt.hconcat(*charts, spacing=0))


def vcol(*charts):
    return indep(alt.vconcat(*charts, spacing=0))


A1 = box_chart((a1_mpr_lo, a1_mpr_q1, a1_mpr_med, a1_mpr_q3, a1_mpr_hi),
               (a1_non_lo, a1_non_q1, a1_non_med, a1_non_q3, a1_non_hi),
               a1_out_cat, a1_out_grp, a1_out_val, a1_p, a1_p_y, [0, 117], [0, 30, 60, 90],
               "Positive ratio(%)", 340, 88, "A", 10, -25)
A2 = box_chart((a2_mpr_lo, a2_mpr_q1, a2_mpr_med, a2_mpr_q3, a2_mpr_hi),
               (a2_non_lo, a2_non_q1, a2_non_med, a2_non_q3, a2_non_hi),
               a2_out_cat, a2_out_grp, a2_out_val, a2_p, a2_p_y, [0, 103], [0, 25, 50, 75, 100],
               "Positive ratio(%)", 333, 88, "", 10, -25)
B1 = box_chart((b1_mpr_lo, b1_mpr_q1, b1_mpr_med, b1_mpr_q3, b1_mpr_hi),
               (b1_non_lo, b1_non_q1, b1_non_med, b1_non_q3, b1_non_hi),
               b1_out_cat, b1_out_grp, b1_out_val, b1_p, b1_p_y, [0, 7400], [0, 2000, 4000, 6000],
               "Density(cells/mm2)", 332, 88, "B", 16, -23)
B2 = box_chart((b2_mpr_lo, b2_mpr_q1, b2_mpr_med, b2_mpr_q3, b2_mpr_hi),
               (b2_non_lo, b2_non_q1, b2_non_med, b2_non_q3, b2_non_hi),
               b2_out_cat, b2_out_grp, b2_out_val, b2_p, b2_p_y, [0, 10780], [0, 2500, 5000, 7500, 10000],
               "Density(cells/mm2)", 333, 88, "", 16, -23)

C = volcano()
D = dot_chart(d_terms, d_ratio, d_count, d_p, [0.0125, 0.1168],
              [0.015, 0.03, 0.045, 0.06, 0.075, 0.09, 0.105], 168, 272, [2, 13], [12.6, 165],
              [2.5, 5, 7.5, 10, 12.5], ".1f", [0.0003, 0.0497], 8.5, 9, 10.6, 10.7, 8.5,
              (185, 16), (185, 146), 92, 18, 8, "D", 13, 8, 2)
E = dot_chart(e_terms, e_ratio, e_count, e_p, [0.0285, 0.161],
              [0.03, 0.045, 0.06, 0.075, 0.09, 0.105, 0.12, 0.135, 0.15], 141, 224, [2, 9], [12.6, 177],
              [2, 4, 6, 8], "d", [0.0007, 0.0428], 9.6, 9, 12, 12, 9.8,
              (160, 120), (162, 3), 104, 20, 7, "E", 17, 0, 22)
F = roc_chart()

rowA = hrow(sp(1), A1, sp(11), A2)
rowB = hrow(sp(1), B1, sp(3), B2)
rowCD = hrow(sp(17), vcol(sp(1, 1), C), sp(7), D)
rowEF = hrow(sp(1), E, sp(20), F)
chart = vcol(rowA, sp(1, 17), rowB, sp(1, 15), rowCD, sp(1, 5), rowEF).properties(
    padding=0).configure_view(stroke="transparent")

chart.save("out.html", embed_options={"renderer": "svg", "actions": False})
